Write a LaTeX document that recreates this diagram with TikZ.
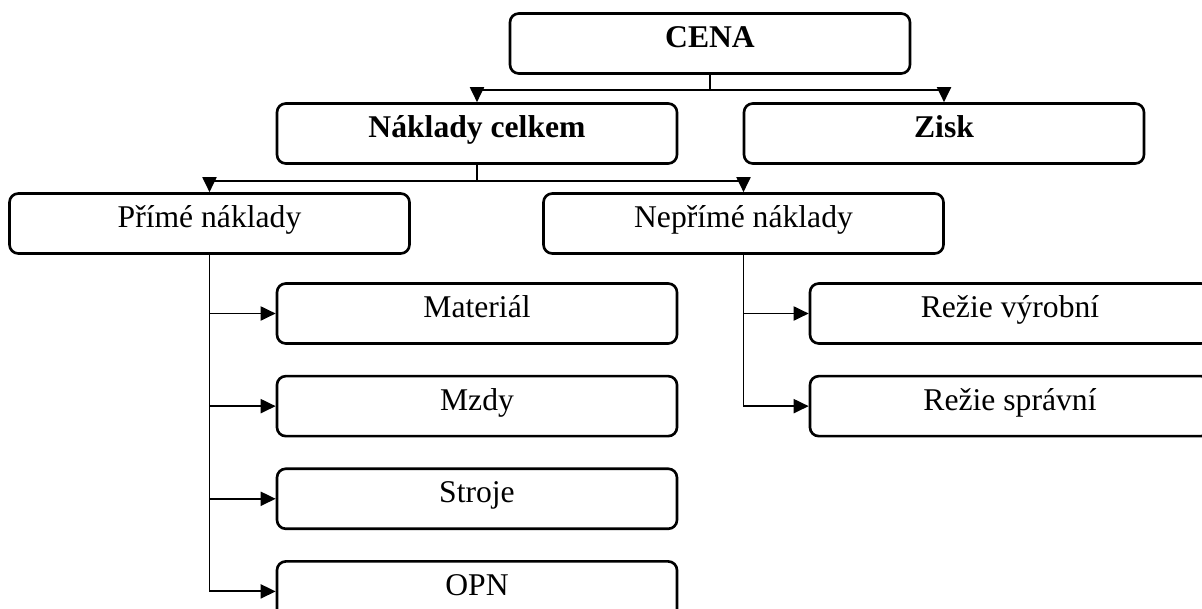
\documentclass[tikz,border=0pt]{standalone}
\usepackage{fontspec}
\setmainfont{Liberation Serif}
\usepackage{tikz}
\usetikzlibrary{positioning,arrows.meta}

\begin{document}
\begin{tikzpicture}[
    item/.style={draw=black, line width=1.5pt, rounded corners=5pt,
      minimum width=8cm, minimum height=1.2cm, inner sep=0pt,
      text height=0.28cm, text depth=0.12cm, font=\fontsize{18}{21}\selectfont},
    head/.style={item, font=\fontsize{18}{21}\selectfont\bfseries},
    conn/.style={line width=1.1pt, -{Triangle[length=0.3cm,width=0.28cm]}}
  ]
  \useasboundingbox (0,0) rectangle (24.04,-12.18);
  \clip (0,0) rectangle (24.04,-12.18);
  % price and its two parts
  \node[head] (cena) at (14.2,-0.87) {CENA};
  \node[head] (naklady) at (9.54,-2.67) {Náklady celkem};
  \node[head] (zisk) at (18.88,-2.67) {Zisk};
  % costs
  \node[item] (prime) at (4.19,-4.47) {Přímé náklady};
  \node[item] (neprime) at (14.87,-4.47) {Nepřímé náklady};
  % direct costs
  \node[item] (material) at (9.54,-6.27) {Materiál};
  \node[item, below=0.6cm of material] (mzdy) {Mzdy};
  \node[item, below=0.6cm of mzdy] (stroje) {Stroje};
  \node[item, below=0.6cm of stroje] (opn) {OPN};
  % overheads
  \node[item] (vyrobni) at (20.2,-6.27) {Režie výrobní};
  \node[item, below=0.6cm of vyrobni] (spravni) {Režie správní};

  \draw[conn] (cena.south) -- ++(0,-0.3) coordinate (cj) -| (naklady.north);
  \draw[conn] (cj) -| (zisk.north);
  \draw[conn] (naklady.south) -- ++(0,-0.32) coordinate (nj) -| (prime.north);
  \draw[conn] (nj) -| (neprime.north);
  \foreach \k in {material,mzdy,stroje,opn}
    \draw[conn] (prime.south) |- (\k.west);
  \foreach \k in {vyrobni,spravni}
    \draw[conn] (neprime.south) |- (\k.west);
\end{tikzpicture}
\end{document}
